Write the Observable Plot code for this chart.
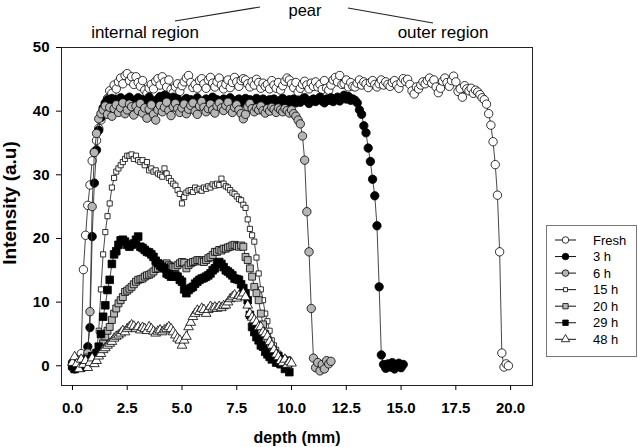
<!DOCTYPE html>
<html><head><meta charset="utf-8">
<script src="https://cdn.jsdelivr.net/npm/d3@7"></script>
<script src="https://cdn.jsdelivr.net/npm/@observablehq/plot@0.6"></script>
<style>
body{margin:0;background:#fff;font-family:"Liberation Sans",Arial,sans-serif;}
#wrap{position:relative;width:638px;height:447px;}
#overlay{position:absolute;left:0;top:0;}
</style></head><body><div id="wrap"></div>
<script>
// sampling step of the depth profile (mm)
const step = 0.1;
const seriesNames = ["Fresh", "3 h", "6 h", "15 h", "20 h", "29 h", "48 h"];
const xTicks = [0, 2.5, 5, 7.5, 10, 12.5, 15, 17.5, 20];
const yTicks = [0, 10, 20, 30, 40, 50];

const fresh = [
0.5, -0.3, 0.2, 0.8, 1.9, 15.1, 20.5, 25.2, 28.4, 32.2,
33.6, 35.4, 37.3, 38.6, 40, 41.2, 42, 43.2, 42.8, 44.1,
43.5, 44.6, 45.2, 44.3, 45.6, 45.9, 44.8, 45.4, 44.2, 45.4,
44.5, 43.9, 44.8, 43.3, 42.8, 43.6, 44.2, 43.5, 44.7, 45.1,
44.1, 45.4, 44.6, 43.8, 44.9, 43.4, 42.9, 43.8, 44.3, 43.1,
44, 44.6, 45.2, 45.6, 44.5, 43.7, 44.2, 43.6, 44.8, 45.1,
44.3, 43.6, 44.9, 45.3, 44.4, 43.8, 44.6, 45.2, 44.1, 43.5,
44.2, 44.9, 43.7, 44.5, 45.3, 44.6, 43.9, 44.8, 45.1, 44.9,
44.3, 43.8, 44.6, 44.1, 45, 44.5, 43.6, 44.4, 43.9, 44.2,
43.5, 44.8, 44.1, 43.6, 44.5, 43.3, 44, 44.7, 45.2, 44.9,
44.3, 43.7, 44.5, 43, 43.6, 44.2, 44.7, 44.1, 43.5, 44.4,
43.9, 44.6, 43.8, 44.2, 43.4, 44.8, 43.6, 43.3, 44.1, 44.9,
45.3, 44.6, 45.6, 44.2, 44.3, 44.9, 43.8, 44.5, 43.9, 43.8,
44.4, 44.9, 44.1, 44.6, 44.3, 43.7, 44.5, 44.8, 44.2, 43.8,
44.3, 44.9, 44.1, 44.6, 44.2, 43.9, 44.5, 44.8, 44.1, 43.6,
44.5, 45.1, 44.7, 45, 44.2, 43.2, 42.7, 43.8, 43.5, 44.1,
44.6, 44.3, 44.8, 45.2, 44.4, 44.9, 43.8, 42.9, 43.6, 44.7,
45.2, 44.5, 43.9, 44.8, 45.5, 44.6, 43.1, 43.5, 42.2, 44,
43.5, 43.2, 43.6, 42.8, 43.3, 43, 42.6, 42.1, 41.8, 41.1,
39.6, 37.8, 35.2, 31.6, 26.8, 17.9, 2.0, -0.2, 0.3, 0
];
const h3 = [
0.2, -0.5, 0.3, -0.2, 0.5, 0.1, 0.8, 3, 6, 20.3,
28.7, 33.9, 37, 39, 40.5, 41.3, 41.8, 41.2, 42, 41.5,
41.8, 41.3, 42.1, 41.6, 41.2, 41.9, 42.2, 41.5, 41, 41.7,
42.1, 41.4, 41.8, 41.2, 41.6, 42.2, 41.7, 41.1, 41.5, 41.9,
42.3, 41.8, 42.5, 41.6, 42.1, 41.7, 42.2, 41.4, 41.9, 41.5,
41.2, 41.7, 42, 41.4, 41.8, 41.3, 41.6, 42.1, 41.5, 41.1,
41.6, 41.9, 41.3, 41.7, 42.2, 41.5, 41.8, 41.2, 41.6, 41.9,
41.4, 41.8, 42.1, 41.5, 41.2, 41.7, 41.9, 41.3, 41.6, 42,
41.5, 41.8, 41.2, 41.6, 42, 41.4, 41.7, 41.9, 41.3, 41.6,
41.8, 41.4, 41.9, 41.5, 41.2, 41.7, 42, 41.6, 41.3, 41.8,
41.5, 41.9, 41.3, 41.7, 41.4, 41.8, 42.1, 41.6, 41.2, 41.7,
41.9, 41.5, 41.8, 42.2, 41.6, 41.3, 41.9, 41.7, 42.1, 41.5,
41.8, 42.2, 41.6, 42, 42.5, 41.9, 42.3, 41.7, 41.9, 41.7,
41.3, 40.2, 39.5, 37.7, 36.6, 34.2, 32.1, 29.3, 26.7, 22,
12.4, 1.7, 0.2, -0.4, 0.3, -0.2, 0.5, -0.5, 0.1, 0.4,
-0.3, 0.2
];
const h6 = [
-0.3, 0.5, 0.9, -0.2, 0.4, 1, 0.6, 2, 8.5, 25,
33.5, 36.5, 38.8, 39.6, 40.2, 40.8, 39.5, 40.6, 39.2, 40.4,
41, 39.8, 40.5, 41.3, 39.6, 40.2, 41.1, 40.7, 39.4, 40.8,
40.1, 41.2, 39.7, 40.5, 38.9, 40.3, 41, 39.5, 38.6, 40.2,
40.9, 39.9, 40.6, 41.4, 40.1, 39.3, 40.7, 41.2, 40.4, 39.8,
40.5, 41.1, 39.6, 40.3, 40.9, 41.3, 40, 39.5, 40.8, 41.5,
40.6, 39.9, 40.4, 41.1, 40.2, 39.7, 40.8, 41.3, 40.5, 40.1,
40.9, 41.4, 40.3, 39.8, 40.6, 41, 40.2, 39.6, 38.8, 39.5,
40.7, 41.2, 40.4, 39.9, 40.5, 40.2, 40.8, 40.1, 39.7, 40.4,
40, 40.6, 40.3, 39.8, 40.5, 40.2, 39.9, 40.4, 40.1, 39.7,
40.2, 39.6, 39.2, 38.6, 38, 36.1, 32.3, 24.2, 17.9, 9,
1.2, -0.3, 0.5, -0.8, 0.2, -0.5, 0.8, 0.3, 0.7
];
const h15 = [
0.5, 0.2, 1.0, 0.0, 0.5, 0.8, 1.0, 0.5, 1.2, 0.8,
1.5, 2, 5.5, 12, 17.5, 21, 23.5, 25.5, 28, 29.5,
30.5, 31, 31.5, 32, 32.5, 33, 33, 33.2, 32.5, 33,
32.3, 32, 32.3, 31.5, 32, 30.7, 31, 30.5, 30.7, 30.2,
30, 29.7, 31, 30.2, 29.5, 29, 28.6, 28.3, 27.6, 27,
25.5, 26.5, 27.2, 27.5, 27.6, 27.3, 28, 27.6, 27.8, 27.5,
28, 27.8, 28.2, 28, 28.5, 28.3, 28.6, 28.4, 29.4, 28.6,
28.2, 28, 27.6, 27.2, 27, 26.6, 26.2, 26, 25.3, 24.8,
23, 21.5, 20.5, 19.5, 17, 14.5, 12, 10.3, 8.2, 7,
5.5, 4, 3.2, 2.5, 1.9, 1.2, 0.8, 0.5, 0.3, 0.2
];
const h20 = [
0.3, 0, 0.8, 0.5, 1, -0.2, 0.5, 1.3, 0.8, 1.5,
1.2, 1.8, 2, 2.5, 3.5, 4.6, 5.5, 6.1, 7.2, 8.2,
9, 9.8, 10.3, 10.8, 11.6, 11.8, 12.1, 12.4, 12.8, 13.2,
13.5, 13.6, 13.7, 14, 14.2, 14.3, 14.5, 14.8, 15.2, 15.3,
15.6, 15.8, 16, 16.1, 15.8, 15.6, 15.5, 15.5, 15.8, 16.1,
16.3, 16.2, 15.3, 15.8, 16.1, 16.3, 16.4, 16.6, 16.6, 16.4,
16.3, 16.6, 16.9, 17.1, 17.4, 17.9, 17.9, 18.2, 18.1, 18.4,
18.4, 18.6, 18.7, 18.9, 19, 18.8, 18.7, 18.9, 18.7, 17.1,
16.6, 15.3, 14, 12.4, 11.4, 10.3, 8.2, 6.5, 5, 4,
3, 2.2, 1.5, 1, 0.5, 0.2
];
const h29 = [
0, -0.5, 0.5, 0.2, -0.3, 0.8, 0.3, 1, 0.5, 1.5,
1.2, 2, 3, 5, 7.7, 9.5, 11.9, 13.5, 16, 17.5,
18, 19, 19.7, 19.8, 19.5, 19, 18.7, 19, 19.2, 19.8,
20.3, 18.7, 18.5, 18.2, 17.9, 17.8, 17.5, 17.1, 16.5, 16.1,
15.8, 15.5, 15.3, 14.5, 14.3, 14, 14, 14.2, 14, 13.5,
13.2, 12, 11.4, 11.9, 12.2, 12.4, 12.9, 13.2, 13.5, 13.7,
13.8, 14, 14.2, 14.5, 15, 15.3, 16.1, 16.3, 16, 15.5,
15, 14.8, 14.5, 14.2, 13.7, 13.6, 13.5, 12.8, 12.2, 11.4,
10.3, 8, 6.1, 5.3, 4.5, 4, 3.2, 3, 2.2, 1.8,
1.4, 1, 2, 0.5, 1.5, 0.3, 1, -0.5, 0.8, -1
];
const h48 = [
0.5, 1.4, 0.3, -0.5, 1, 0.2, 0.8, -0.3, 0.5, 1.2,
0.3, 0.8, 1.5, 1.9, 2.5, 2.8, 3.2, 3.5, 3.8, 4.3,
4.6, 4.8, 5.1, 5.5, 5.3, 5.8, 6.1, 6.4, 6.2, 5.8,
6.1, 5.6, 6, 5.8, 5.5, 6.1, 5.8, 5.4, 5.1, 5.4,
5.6, 5.3, 5.6, 5.8, 6.1, 5.8, 5.3, 4.8, 4.3, 4,
3.2, 4, 4.6, 6.1, 6.8, 7.7, 8.2, 8.7, 8.5, 9,
8.8, 8.2, 8.8, 9.3, 9, 9.2, 9, 9.3, 9.1, 9.4,
9.5, 10, 10.5, 10.8, 11.1, 10.6, 11, 10.9, 11.4, 10.8,
9.5, 8.2, 7.6, 7.2, 6.8, 6.1, 6.1, 5.3, 5, 4.6,
3.8, 3.2, 2.5, 1.8, 1.4, 0.8, 0.5, 1, 0.2, 0.6,
0.4
];

const valuesByName = [fresh, h3, h6, h15, h20, h29, h48];
const styles = [
  {symbol: "circle", fill: "white", r: 4.2, lr: 3.3},
  {symbol: "circle", fill: "black", r: 4.2, lr: 3.3},
  {symbol: "circle", fill: "#b5b5b5", r: 4.2, lr: 3.3},
  {symbol: "square", fill: "white", r: 2.9, lr: 2.3},
  {symbol: "square", fill: "#b5b5b5", r: 3.9, lr: 3.0},
  {symbol: "square", fill: "black", r: 4.3, lr: 3.1},
  {symbol: "triangle", fill: "white", r: 3.6, lr: 3.1}
];

const rows = [];
seriesNames.forEach((name, k) => {
  valuesByName[k].forEach((v, i) => rows.push({name, depth: +(i * step).toFixed(2), intensity: v}));
});

const marks = [Plot.frame({stroke: "#222", strokeWidth: 1})];
seriesNames.forEach((name, k) => {
  const d = rows.filter(r => r.name === name);
  const s = styles[k];
  marks.push(Plot.line(d, {x: "depth", y: "intensity", stroke: "#333", strokeWidth: 0.9}));
  marks.push(Plot.dot(d, {x: "depth", y: "intensity", symbol: () => s.symbol, fill: s.fill, stroke: "#000", strokeWidth: 0.8, r: s.r}));
});
marks.push(Plot.axisX({ticks: xTicks, tickFormat: d3.format(".1f"), tickSize: 5, tickPadding: 12, label: null}));
marks.push(Plot.axisY({ticks: yTicks, tickSize: 5, tickPadding: 7, label: null}));

const chart = Plot.plot({
  width: 638, height: 447,
  marginLeft: 61, marginRight: 106, marginTop: 47, marginBottom: 62,
  x: {domain: [-0.5, 21]},
  y: {domain: [-3.1, 50]},
  style: {fontFamily: "Liberation Sans, Arial, sans-serif", fontSize: "15px", fontWeight: "bold", background: "white", color: "black"},
  marks
});
const wrap = document.getElementById("wrap");
wrap.appendChild(chart);

// overlay: titles, annotations, legend
const ov = d3.select(wrap).append("svg").attr("id", "overlay").attr("width", 638).attr("height", 447)
  .style("font-family", "Liberation Sans, Arial, sans-serif");
ov.append("text").attr("x", 305).attr("y", 16).attr("text-anchor", "middle").attr("font-size", 16.5).text("pear");
ov.append("text").attr("x", 145).attr("y", 38).attr("text-anchor", "middle").attr("font-size", 17).text("internal region");
ov.append("text").attr("x", 443).attr("y", 38).attr("text-anchor", "middle").attr("font-size", 17).text("outer region");
ov.append("line").attr("x1", 175).attr("y1", 21).attr("x2", 260).attr("y2", 7).attr("stroke", "#222").attr("stroke-width", 1.2);
ov.append("line").attr("x1", 348).attr("y1", 8).attr("x2", 433).attr("y2", 23).attr("stroke", "#222").attr("stroke-width", 1.2);
ov.append("text").attr("transform", "translate(16,203) rotate(-90)").attr("text-anchor", "middle")
  .attr("font-size", 19).attr("font-weight", "bold").text("Intensity (a.u)");
ov.append("text").attr("x", 297).attr("y", 443).attr("text-anchor", "middle")
  .attr("font-size", 16).attr("font-weight", "bold").text("depth (mm)");

ov.append("rect").attr("x", 546.5).attr("y", 225.5).attr("width", 90).attr("height", 131)
  .attr("fill", "white").attr("stroke", "#777").attr("stroke-width", 1);
seriesNames.forEach((name, k) => {
  const y = 240 + k * 16.55;
  const s = styles[k];
  ov.append("line").attr("x1", 555).attr("x2", 576).attr("y1", y).attr("y2", y).attr("stroke", "#111").attr("stroke-width", 1);
  const sym = {circle: d3.symbolCircle, square: d3.symbolSquare, triangle: d3.symbolTriangle}[s.symbol];
  ov.append("path").attr("d", d3.symbol(sym, Math.PI * s.lr * s.lr)())
    .attr("transform", `translate(565.5,${y})`).attr("fill", s.fill).attr("stroke", "#000").attr("stroke-width", 0.8);
  ov.append("text").attr("x", 593).attr("y", y).attr("dy", "0.35em").attr("font-size", 13).text(name);
});
</script>
</body></html>
